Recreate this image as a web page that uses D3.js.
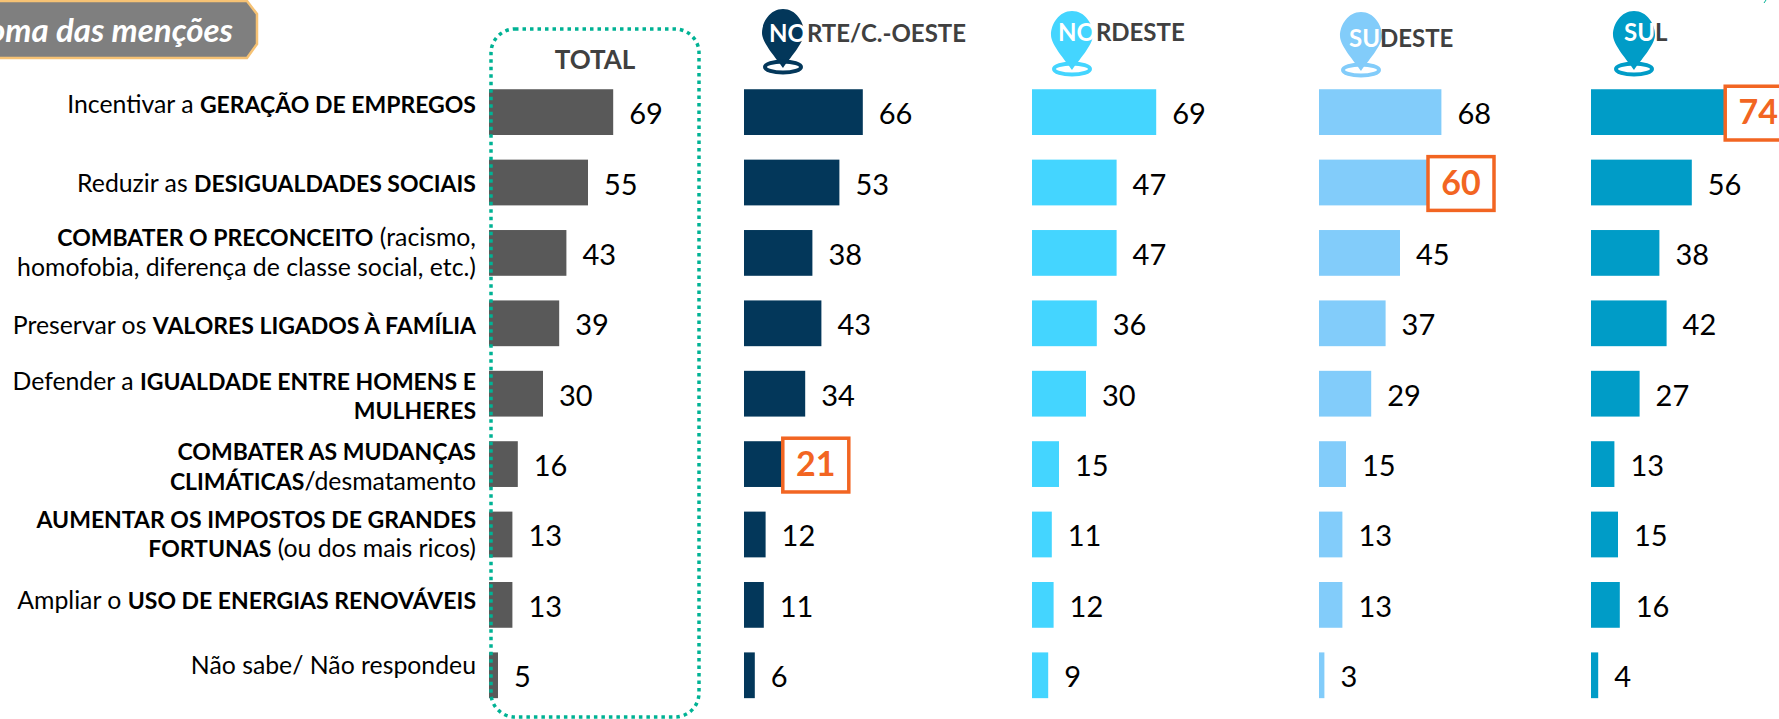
<!DOCTYPE html>
<html>
<head>
<meta charset="utf-8">
<script src="https://cdn.jsdelivr.net/npm/d3@7"></script>
<style>
  html, body { margin: 0; padding: 0; background: #fff; overflow: hidden; }
  text { font-family: Lato, "Open Sans", sans-serif; }
</style>
</head>
<body>
<svg id="chart" width="1779" height="719"></svg>
<script>
// each line of a label is a list of [text, bold] pieces
const categories = [
  [[["Incentivar a ", 0], ["GERAÇÃO DE EMPREGOS", 1]]],
  [[["Reduzir as ", 0], ["DESIGUALDADES SOCIAIS", 1]]],
  [[["COMBATER O PRECONCEITO", 1], [" (racismo,", 0]], [["homofobia, diferença de classe social, etc.)", 0]]],
  [[["Preservar os ", 0], ["VALORES LIGADOS À FAMÍLIA", 1]]],
  [[["Defender a ", 0], ["IGUALDADE ENTRE HOMENS E", 1]], [["MULHERES", 1]]],
  [[["COMBATER AS MUDANÇAS", 1]], [["CLIMÁTICAS", 1], ["/desmatamento", 0]]],
  [[["AUMENTAR OS IMPOSTOS DE GRANDES", 1]], [["FORTUNAS", 1], [" (ou dos mais ricos)", 0]]],
  [[["Ampliar o ", 0], ["USO DE ENERGIAS RENOVÁVEIS", 1]]],
  [[["Não sabe/ Não respondeu", 0]]]
];

const total = [69, 55, 43, 39, 30, 16, 13, 13, 5];
const norte = [66, 53, 38, 43, 34, 21, 12, 11, 6];
const nordeste = [69, 47, 47, 36, 30, 15, 11, 12, 9];
const sudeste = [68, 60, 45, 37, 29, 15, 13, 13, 3];
const sul = [74, 56, 38, 42, 27, 13, 15, 16, 4];

const svg = d3.select("#chart");
const rows = d3.range(categories.length);

const y = d3.scaleBand().domain(rows).range([64.6, 722.8]).paddingInner(0.35).paddingOuter(0.35);
const x = d3.scaleLinear().domain([0, 100]).range([0, 180]);

const panels = [
  { values: total, left: 489, color: "#595959", hi: -1 },
  { values: norte, left: 744, color: "#03375a", hi: 5, pin: [783, 9], inPin: "NO", rest: "RTE/C.-OESTE", tx: 769, ty: 42, fs: 24 },
  { values: nordeste, left: 1032, color: "#44d5ff", hi: -1, pin: [1072, 11], inPin: "NO", rest: "RDESTE", tx: 1058, ty: 41, fs: 24 },
  { values: sudeste, left: 1319, color: "#82ccfa", hi: 1, pin: [1361, 12], inPin: "SU", rest: "DESTE", tx: 1349, ty: 47, fs: 24 },
  { values: sul, left: 1591, color: "#009cc7", hi: 0, pin: [1634, 11], inPin: "SU", rest: "L", tx: 1624, ty: 41, fs: 24 }
];

// title tag, cut off by the left edge
svg.append("path")
  .attr("d", "M-20,1 L247,1 L257,14 L257,44 L247,58 L-20,58 Z")
  .attr("fill", "#7f7f7f").attr("stroke", "#f6c274").attr("stroke-width", 2.5);
svg.append("text")
  .attr("x", 233).attr("y", 42).attr("text-anchor", "end")
  .attr("fill", "#fff").attr("font-size", 33).attr("font-weight", 700).attr("font-style", "italic")
  .text("Soma das menções");

// row labels
const labelShift = [-7, 1, 0, 3, 3, 3, 0, -4, -9];
rows.forEach(i => {
  const lines = categories[i];
  const cy = y(i) + y.bandwidth() / 2 + labelShift[i];
  lines.forEach((line, k) => {
    const t = svg.append("text")
      .attr("x", 476)
      .attr("y", cy + (k - (lines.length - 1) / 2) * 29.5 + 8)
      .attr("text-anchor", "end")
      .attr("fill", "#000");
    line.forEach(p => {
      t.append("tspan")
        .attr("font-weight", p[1] ? 700 : 400)
        .attr("font-size", p[1] ? 23 : 24.8)
        .text(p[0]);
    });
  });
});

// bars and values
panels.forEach(p => {
  const g = svg.append("g").attr("transform", `translate(${p.left},0)`);
  g.selectAll("rect.bar").data(p.values).enter().append("rect")
    .attr("class", "bar")
    .attr("x", 0)
    .attr("y", (d, i) => y(i))
    .attr("width", d => x(d))
    .attr("height", y.bandwidth())
    .attr("fill", p.color);

  g.selectAll("rect.box").data(p.values).enter()
    .filter((d, i) => i === p.hi)
    .append("rect")
    .attr("class", "box")
    .attr("x", d => x(d) + 1)
    .attr("y", () => y(p.hi) - 3)
    .attr("width", 66)
    .attr("height", y.bandwidth() + 8)
    .attr("fill", "#fff").attr("stroke", "#f26522").attr("stroke-width", 3.5);

  g.selectAll("text.val").data(p.values).enter().append("text")
    .attr("class", "val")
    .attr("x", (d, i) => i === p.hi ? x(d) + 34 : x(d) + 16)
    .attr("y", (d, i) => y(i) + y.bandwidth() / 2 + 12)
    .attr("text-anchor", (d, i) => i === p.hi ? "middle" : "start")
    .attr("font-size", (d, i) => i === p.hi ? 34 : 29)
    .attr("font-weight", (d, i) => i === p.hi ? 700 : 400)
    .attr("fill", (d, i) => i === p.hi ? "#f26522" : "#000")
    .text(d => d);
});

// TOTAL box
svg.append("rect")
  .attr("x", 491).attr("y", 29).attr("width", 208).attr("height", 688).attr("rx", 24)
  .attr("fill", "none").attr("stroke", "#00b294").attr("stroke-width", 3.5).attr("stroke-dasharray", "3.5 4");
svg.append("text")
  .attr("x", 595).attr("y", 69).attr("text-anchor", "middle")
  .attr("font-size", 26).attr("font-weight", 700).attr("fill", "#404040")
  .text("TOTAL");

// location pins with region names
panels.filter(p => p.pin).forEach(p => {
  const g = svg.append("g").attr("transform", `translate(${p.pin[0]},${p.pin[1]})`);
  g.append("path")
    .attr("d", "M0,0 C13,0 21,13 21,24 C21,34 6,50 0,59 C-6,50 -21,34 -21,24 C-21,13 -13,0 0,0 Z")
    .attr("fill", p.color);
  g.append("ellipse")
    .attr("cx", 0).attr("cy", 58).attr("rx", 18).attr("ry", 5.5)
    .attr("fill", "none").attr("stroke", p.color).attr("stroke-width", 4);
  const t = svg.append("text")
    .attr("x", p.tx).attr("y", p.ty)
    .attr("font-size", p.fs).attr("font-weight", 700).attr("fill", "#404040");
  t.append("tspan").attr("fill", "#fff").text(p.inPin);
  t.append("tspan").text(p.rest);
});

// small mark at the top right corner
svg.append("line")
  .attr("x1", 1764).attr("y1", 3).attr("x2", 1766).attr("y2", 0)
  .attr("stroke", "#00b294").attr("stroke-width", 1);
</script>
</body>
</html>
